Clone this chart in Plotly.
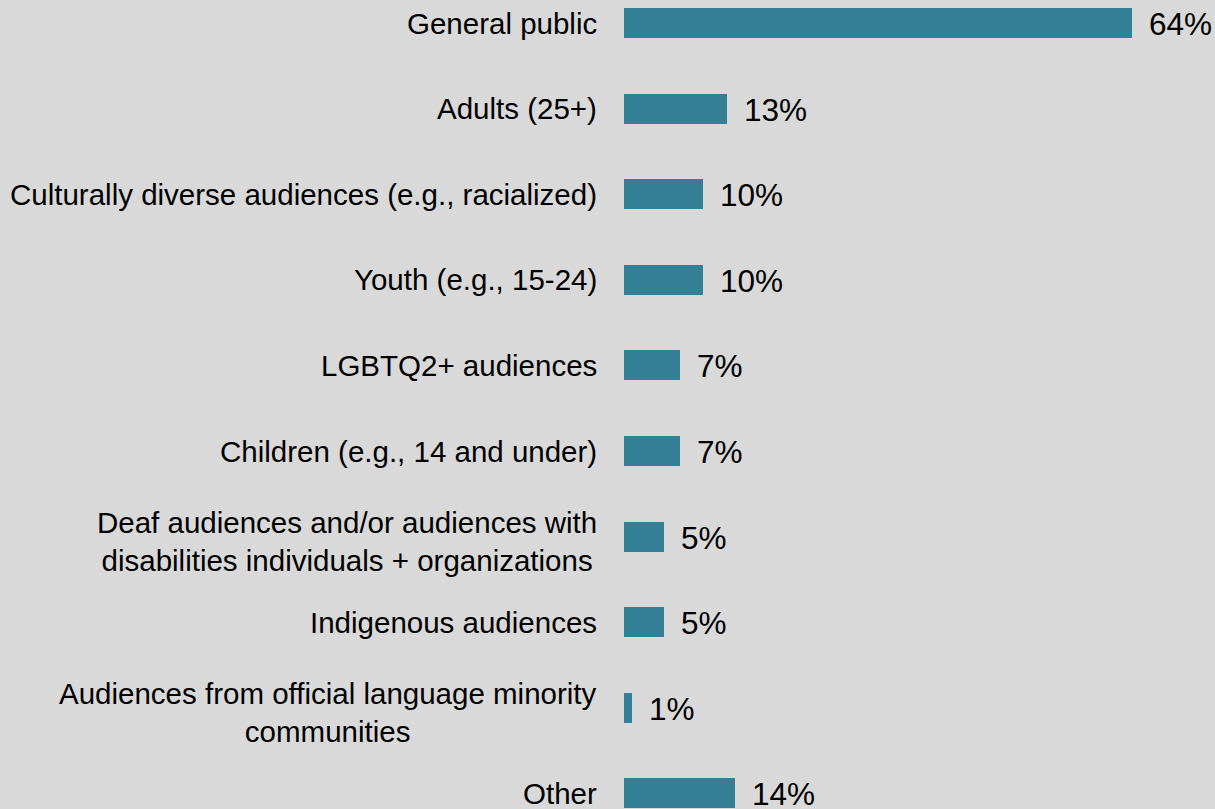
import plotly.graph_objects as go

# Survey results: share of respondents by target audience
categories = [
    "General public",
    "Adults (25+)",
    "Culturally diverse audiences (e.g., racialized)",
    "Youth (e.g., 15-24)",
    "LGBTQ2+ audiences",
    "Children (e.g., 14 and under)",
    "Deaf audiences and/or audiences with<br>disabilities individuals + organizations",
    "Indigenous audiences",
    "Audiences from official language minority<br>communities",
    "Other",
]
values = [64, 13, 10, 10, 7, 7, 5, 5, 1, 14]
value_labels = [f"{v}%" for v in values]

BAR_COLOR = "#337f96"
BG = "#d9d9d9"
FONT = "Liberation Sans, Arial, sans-serif"
CAT_SIZE = 29.5
VAL_SIZE = 31.5

fig = go.Figure(
    go.Bar(
        x=values,
        y=categories,
        orientation="h",
        width=0.35,
        marker=dict(color=BAR_COLOR, line=dict(width=0)),
        hoverinfo="skip",
    )
)

annotations = []
for cat, val, lab in zip(categories, values, value_labels):
    multiline = "<br>" in cat
    # category label, right-aligned against the bars, lines centred
    annotations.append(
        dict(
            x=0, xref="paper", y=cat, yref="y",
            text=cat, showarrow=False,
            xanchor="right", yanchor="middle", align="center",
            xshift=-25, yshift=-5 if multiline else 0,
            font=dict(family=FONT, size=CAT_SIZE, color="#000000"),
        )
    )
    # value label just past the bar end
    annotations.append(
        dict(
            x=val, xref="x", y=cat, yref="y",
            text=lab, showarrow=False,
            xanchor="left", yanchor="middle",
            xshift=15, yshift=-1,
            font=dict(family=FONT, size=VAL_SIZE, color="#000000"),
        )
    )

fig.update_layout(
    width=1215,
    height=809,
    margin=dict(l=624, r=0, t=0, b=0),
    paper_bgcolor=BG,
    plot_bgcolor=BG,
    showlegend=False,
    bargap=0,
    xaxis=dict(
        range=[0, 74.4],
        visible=False,
        fixedrange=True,
    ),
    yaxis=dict(
        type="category",
        categoryorder="array",
        categoryarray=categories,
        range=[9.182, -0.269],
        showticklabels=False,
        showgrid=False,
        zeroline=False,
        showline=False,
        ticks="",
        fixedrange=True,
    ),
    annotations=annotations,
)

fig.write_html("out.html")
